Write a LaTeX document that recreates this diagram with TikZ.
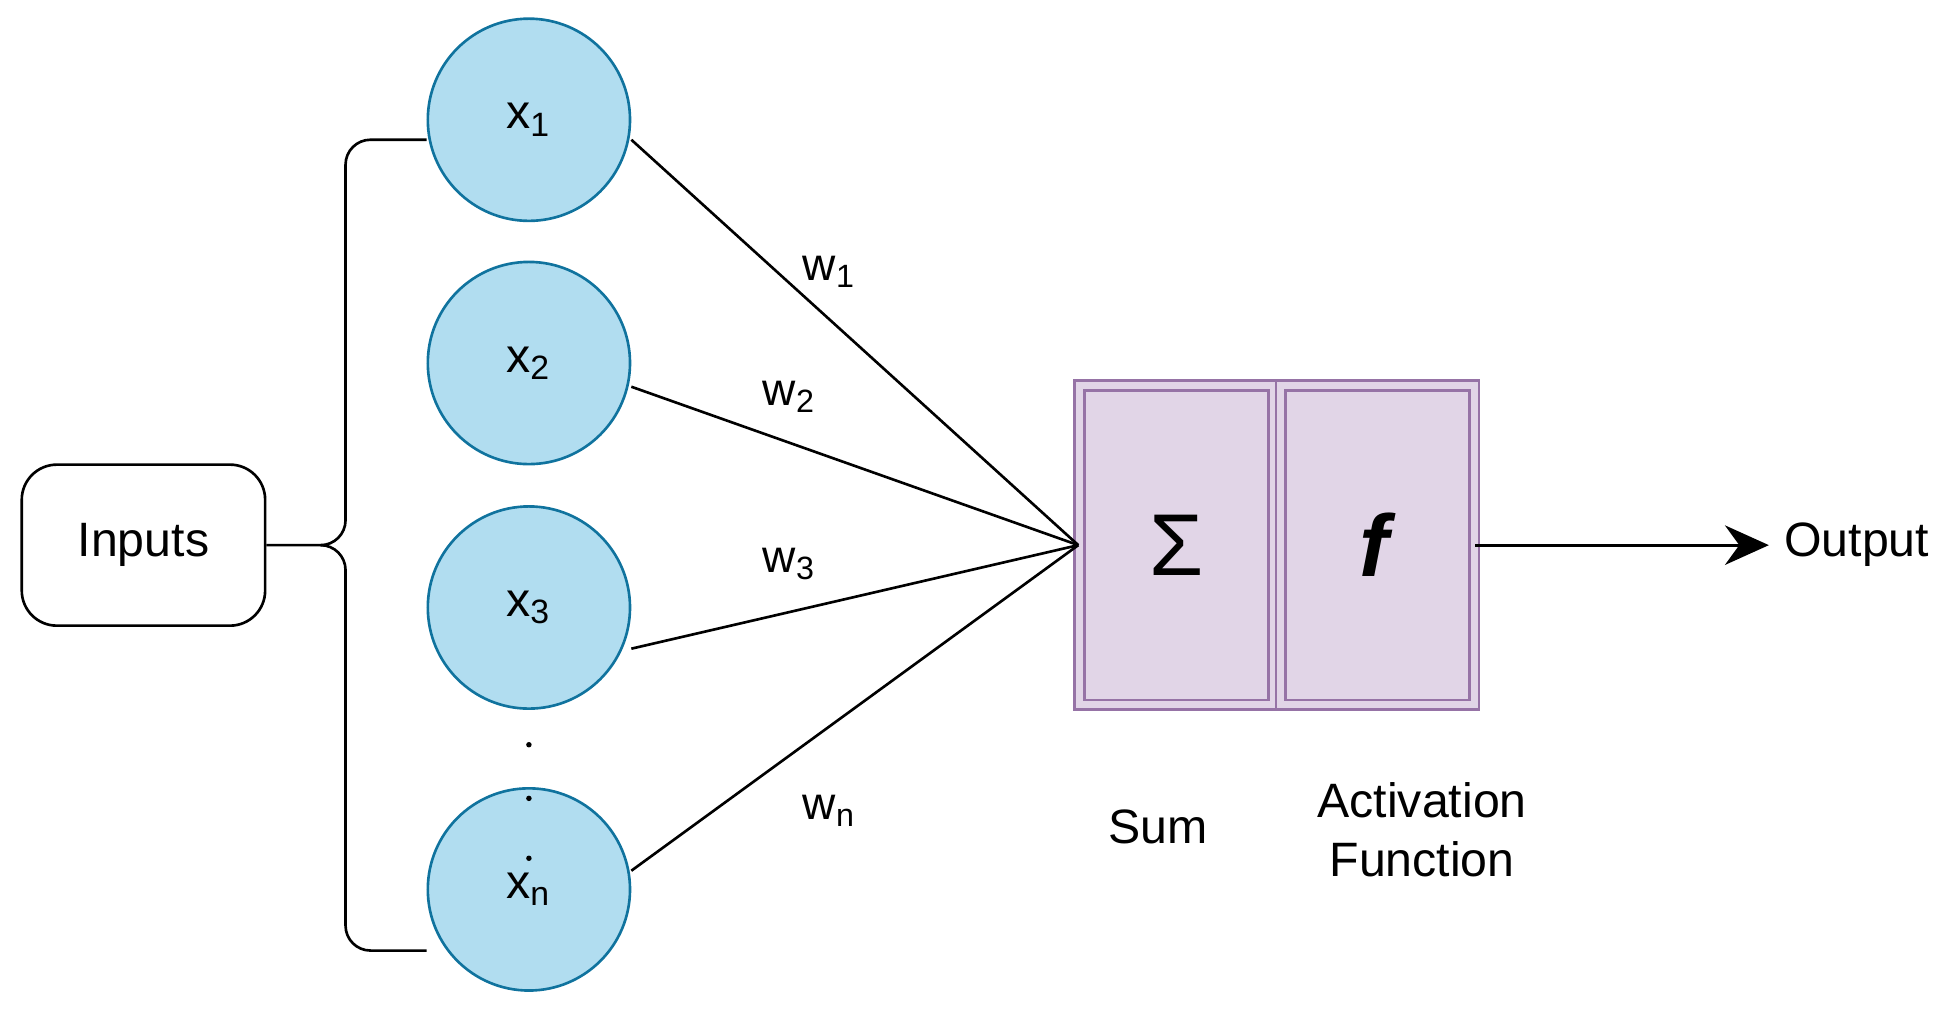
\documentclass[tikz,border=0pt]{standalone}
\usepackage{fontspec}
\setmainfont{Liberation Sans}
\usetikzlibrary{arrows.meta,positioning,calc}
\definecolor{cfill}{HTML}{B1DDF0}
\definecolor{cdraw}{HTML}{10739E}
\definecolor{pfill}{HTML}{E1D5E7}
\definecolor{pdraw}{HTML}{9673A6}
\tikzset{
    inp/.style={circle,draw=cdraw,fill=cfill,line width=0.6pt,minimum size=1.62cm,inner sep=0pt,font=\fontsize{11pt}{13pt}\selectfont},
    unit/.style={draw=pdraw,double=pfill,double distance=1.6pt,line width=0.6pt,fill=pfill,minimum width=1.55cm,minimum height=2.56cm,inner sep=0pt},
    lbl/.style={font=\fontsize{11pt}{13.5pt}\selectfont},
    wgt/.style={font=\fontsize{10.5pt}{12pt}\selectfont}
}
\begin{document}
\begin{tikzpicture}[x=0.01cm,y=-0.01cm]
    \useasboundingbox (0,0) rectangle (1560,814);
    \node[draw,rounded corners=8pt,line width=0.6pt,minimum width=1.95cm,minimum height=1.29cm,lbl] (inputs) at (115,437) {Inputs};
    % input neurons
    \node[inp] (x1) at (424,96) {x\textsubscript{1}};
    \node[inp] (x2) at (424,291) {x\textsubscript{2}};
    \node[inp] (x3) at (424,487) {x\textsubscript{3}};
    \node[inp] (xn) at (424,713) {x\textsubscript{n}};
    \foreach \y in {597,640,688}
        \fill (424,\y) circle[radius=2.2];
    % brace
    \coordinate (btop) at (342,112);
    \coordinate (bbot) at (342,762);
    \draw[line width=0.6pt] (btop) -- (297,112) arc[start angle=270,end angle=180,radius=20] -- (277,417)
        arc[start angle=0,end angle=90,radius=20] -- (inputs.east) ;
    \draw[line width=0.6pt] (257,437) arc[start angle=270,end angle=360,radius=20] -- (277,742)
        arc[start angle=180,end angle=90,radius=20] -- (bbot);
    % sum and activation
    \node[unit] (sum) at (943,437) {\fontsize{20pt}{22pt}\selectfont Σ};
    \node[unit,right=0.04cm of sum] (act) {\fontsize{20pt}{22pt}\selectfont\textbf{\textit{f}}};
    \coordinate (hub) at (sum.west);
    \draw[line width=0.6pt] (x1.east)+(0,16) -- (hub);
    \draw[line width=0.6pt] (x2.east)+(0,19) -- (hub);
    \draw[line width=0.6pt] (x3.east)+(0,33) -- (hub);
    \draw[line width=0.6pt] (xn.east)+(0,-15) -- (hub);
    \node[wgt] (w1) at (665,218) {w\textsubscript{1}};
    \node[wgt] (w2) at (633,318) {w\textsubscript{2}};
    \node[wgt] (w3) at (633,452) {w\textsubscript{3}};
    \node[wgt] (wn) at (665,650) {w\textsubscript{n}};
    \node[lbl] (sumlbl) at (928,663) {Sum};
    \node[lbl,align=center] (actlbl) at (1140,665) {Activation\\Function};
    \node[lbl,anchor=west] (out) at (1418,437) {Output};
    \draw[line width=0.7pt,-{Stealth[length=10pt,width=9pt]}] (act.east) -- (out.west);
\end{tikzpicture}
\end{document}
